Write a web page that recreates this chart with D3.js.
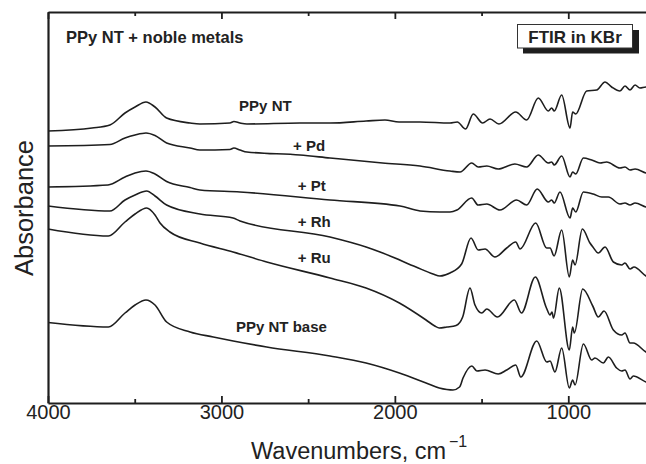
<!DOCTYPE html>
<html>
<head>
<meta charset="utf-8">
<script src="https://cdn.jsdelivr.net/npm/d3@7"></script>
<style>
  html, body { margin: 0; padding: 0; background: #fff; }
  svg { display: block; }
  text { font-family: "Liberation Sans", Arial, Helvetica, sans-serif; }
</style>
</head>
<body>
<script>
// ---------------- data (wavenumber cm^-1, absorbance offset, a.u.) ----------------
const ppyNT = [[4000,2.72],[3746,2.75],[3643,2.78],[3556,2.90],[3498,2.96],[3435,3.01],[3383,2.96],[3316,2.85],[3181,2.80],[3124,2.79],[2951,2.80],[2928,2.815],[2893,2.80],[2853,2.79],[2547,2.80],[2374,2.80],[2166,2.82],[2057,2.83],[1976,2.81],[1855,2.81],[1682,2.80],[1640,2.81],[1592,2.74],[1548,2.89],[1494,2.80],[1451,2.84],[1400,2.79],[1303,2.91],[1240,2.83],[1173,3.05],[1115,2.92],[1096,2.95],[1081,2.92],[1038,3.08],[990,2.75],[975,2.91],[957,2.89],[894,3.12],[836,3.13],[788,3.21],[750,3.16],[702,3.12],[673,3.17],[644,3.13],[615,3.18],[587,3.15],[552,3.16],[500,3.15]];
const ppyPd = [[4000,2.57],[3643,2.585],[3556,2.65],[3498,2.68],[3435,2.70],[3383,2.675],[3316,2.60],[3181,2.55],[3124,2.53],[2951,2.535],[2928,2.55],[2893,2.53],[2853,2.51],[2547,2.48],[2374,2.45],[2071,2.40],[1855,2.37],[1682,2.32],[1624,2.31],[1557,2.40],[1519,2.36],[1470,2.37],[1404,2.34],[1308,2.39],[1240,2.36],[1173,2.48],[1115,2.40],[1096,2.41],[1081,2.38],[1038,2.47],[990,2.26],[975,2.31],[957,2.29],[913,2.45],[865,2.43],[817,2.40],[779,2.41],[702,2.35],[673,2.36],[644,2.33],[615,2.34],[552,2.30],[500,2.28]];
const ppyPt = [[4000,2.16],[3654,2.18],[3556,2.26],[3498,2.30],[3435,2.32],[3383,2.29],[3316,2.215],[3181,2.155],[3124,2.13],[2893,2.11],[2374,2.03],[1970,1.97],[1855,1.92],[1740,1.91],[1682,1.91],[1642,1.93],[1557,2.05],[1520,1.98],[1470,1.99],[1394,1.93],[1298,2.03],[1240,1.98],[1179,2.14],[1115,2.01],[1096,2.03],[1081,2.00],[1048,2.11],[990,1.85],[975,1.95],[957,1.91],[913,2.11],[856,2.09],[807,2.06],[769,2.06],[702,1.99],[673,2.00],[644,1.98],[615,2.00],[552,1.96],[500,1.94]];
const ppyRh = [[4000,1.97],[3643,1.92],[3556,2.03],[3498,2.08],[3431,2.12],[3383,2.07],[3316,1.98],[3124,1.89],[2933,1.85],[2893,1.82],[2374,1.66],[2166,1.56],[2070,1.50],[1878,1.36],[1780,1.29],[1740,1.27],[1682,1.30],[1615,1.39],[1561,1.65],[1519,1.53],[1480,1.54],[1423,1.46],[1355,1.55],[1303,1.61],[1278,1.54],[1188,1.80],[1125,1.55],[1105,1.55],[1082,1.47],[1038,1.73],[994,1.26],[975,1.43],[961,1.38],[919,1.74],[875,1.60],[858,1.56],[827,1.50],[788,1.56],[740,1.41],[692,1.38],[673,1.40],[644,1.34],[621,1.36],[552,1.27],[500,1.24]];
const ppyRu = [[4000,1.74],[3652,1.67],[3556,1.81],[3498,1.89],[3431,1.95],[3383,1.88],[3354,1.80],[3297,1.71],[3124,1.60],[2933,1.51],[2739,1.41],[2374,1.25],[2166,1.15],[1974,1.00],[1820,0.83],[1770,0.77],[1744,0.75],[1700,0.76],[1647,0.775],[1609,0.86],[1567,1.15],[1538,0.98],[1499,0.90],[1470,0.94],[1409,0.86],[1311,1.03],[1270,0.90],[1190,1.26],[1126,0.95],[1105,0.88],[1094,0.91],[1085,0.85],[1052,1.15],[994,0.53],[975,0.76],[965,0.70],[917,1.14],[859,0.97],[827,0.86],[794,0.92],[740,0.73],[692,0.68],[673,0.70],[644,0.60],[625,0.60],[552,0.51],[500,0.48]];
const ppyBase = [[4000,0.805],[3652,0.76],[3556,0.90],[3498,0.98],[3435,1.03],[3383,0.98],[3316,0.81],[3181,0.71],[3047,0.66],[2932,0.62],[2739,0.56],[2374,0.47],[2166,0.40],[1974,0.30],[1820,0.20],[1744,0.15],[1700,0.135],[1665,0.13],[1627,0.16],[1607,0.25],[1556,0.37],[1527,0.32],[1480,0.33],[1404,0.29],[1355,0.33],[1303,0.38],[1274,0.26],[1182,0.62],[1124,0.41],[1105,0.42],[1077,0.31],[1038,0.55],[994,0.15],[975,0.23],[961,0.18],[913,0.59],[865,0.43],[846,0.45],[798,0.40],[769,0.46],[721,0.35],[692,0.32],[673,0.33],[644,0.24],[625,0.27],[552,0.21],[500,0.19]];

const seriesNames  = ["PPy NT", "+ Pd", "+ Pt", "+ Rh", "+ Ru", "PPy NT base"];
const seriesData   = [ppyNT, ppyPd, ppyPt, ppyRh, ppyRu, ppyBase];
// label anchor (wavenumber of left edge, absorbance of baseline)
const labelWn      = [2898, 2587, 2560, 2560, 2560, 2916];
const labelAbs     = [2.92, 2.525, 2.12, 1.765, 1.40, 0.715];

const majorTicks = [4000, 3000, 2000, 1000];
const minorTicks = [3500, 2500, 1500];
const xDomain = [4000, 500];
const yDomain = [0, 3.91];

const titleText = "PPy NT + noble metals";
const boxText = "FTIR in KBr";
const xLabel = "Wavenumbers, cm";
const xLabelSup = "\u22121";
const yLabel = "Absorbance";

// ---------------- layout ----------------
const W = 646, H = 464;
const mLeft = 48, mTop = 12, mBottom = 403, mRight = 655;

const svg = d3.select("body").append("svg").attr("width", W).attr("height", H);

const x = d3.scaleLinear().domain(xDomain).range([mLeft, mRight]);
const y = d3.scaleLinear().domain(yDomain).range([mBottom, mTop]);

const ink = "#1e1e1e";

// curves
const line = d3.line()
  .x(d => x(d[0]))
  .y(d => y(d[1]))
  .curve(d3.curveMonotoneX);

svg.append("g").selectAll("path")
  .data(seriesData)
  .join("path")
  .attr("d", line)
  .attr("fill", "none")
  .attr("stroke", ink)
  .attr("stroke-width", 1.6)
  .attr("stroke-linejoin", "round");

// axes
const axisFont = g => g.attr("font-family", "Liberation Sans, Arial, sans-serif");

const bottomMajor = svg.append("g")
  .attr("transform", `translate(0,${mBottom})`)
  .call(d3.axisBottom(x).tickValues(majorTicks).tickSizeInner(-7).tickSizeOuter(0).tickPadding(14).tickFormat(d3.format("d")))
  .call(axisFont);
bottomMajor.select(".domain").attr("stroke", ink).attr("stroke-width", 2.2);
bottomMajor.selectAll(".tick line").attr("stroke", ink).attr("stroke-width", 1.8);
bottomMajor.selectAll(".tick text").attr("font-size", 20).attr("fill", "#222").attr("dy", "0.1em");

const bottomMinor = svg.append("g")
  .attr("transform", `translate(0,${mBottom})`)
  .call(d3.axisBottom(x).tickValues(minorTicks).tickSizeInner(-4).tickSizeOuter(0).tickFormat(""));
bottomMinor.select(".domain").remove();
bottomMinor.selectAll(".tick line").attr("stroke", ink).attr("stroke-width", 1.8);

const topMajor = svg.append("g")
  .attr("transform", `translate(0,${mTop})`)
  .call(d3.axisTop(x).tickValues(majorTicks).tickSizeInner(-7).tickSizeOuter(0).tickFormat(""));
topMajor.select(".domain").attr("stroke", ink).attr("stroke-width", 2.2);
topMajor.selectAll(".tick line").attr("stroke", ink).attr("stroke-width", 1.8);

const topMinor = svg.append("g")
  .attr("transform", `translate(0,${mTop})`)
  .call(d3.axisTop(x).tickValues(minorTicks).tickSizeInner(-4).tickSizeOuter(0).tickFormat(""));
topMinor.select(".domain").remove();
topMinor.selectAll(".tick line").attr("stroke", ink).attr("stroke-width", 1.8);

const leftAxis = svg.append("g")
  .attr("transform", `translate(${mLeft},0)`)
  .call(d3.axisLeft(y).tickValues([]).tickSizeOuter(0));
leftAxis.select(".domain").attr("stroke", ink).attr("stroke-width", 2.2);

// axis titles
const xt = svg.append("text")
  .attr("x", 251).attr("y", 459)
  .attr("font-size", 23.5).attr("fill", "#222")
  .text(xLabel);
xt.append("tspan").attr("dx", 3).attr("dy", -12).attr("font-size", 16).text(xLabelSup);

svg.append("text")
  .attr("transform", `translate(33,208) rotate(-90)`)
  .attr("text-anchor", "middle")
  .attr("font-size", 25.5).attr("fill", "#222")
  .text(yLabel);

// series labels
svg.append("g").selectAll("text")
  .data(seriesNames)
  .join("text")
  .attr("x", (d, i) => x(labelWn[i]))
  .attr("y", (d, i) => y(labelAbs[i]))
  .attr("font-size", 15).attr("font-weight", "bold").attr("fill", "#222")
  .text(d => d);

// title
svg.append("text")
  .attr("x", 66).attr("y", 43)
  .attr("font-size", 16.5).attr("font-weight", "bold").attr("fill", "#222")
  .text(titleText);

// FTIR box with shadow
svg.append("rect").attr("x", 523).attr("y", 30).attr("width", 116).attr("height", 23.5).attr("fill", "#1e1e1e");
svg.append("rect").attr("x", 517.5).attr("y", 24.5).attr("width", 115).attr("height", 23.5)
  .attr("fill", "#fff").attr("stroke", "#333").attr("stroke-width", 1);
svg.append("text")
  .attr("x", 575).attr("y", 42.5).attr("text-anchor", "middle")
  .attr("font-size", 17).attr("font-weight", "bold").attr("fill", "#222")
  .text(boxText);
</script>
</body>
</html>
